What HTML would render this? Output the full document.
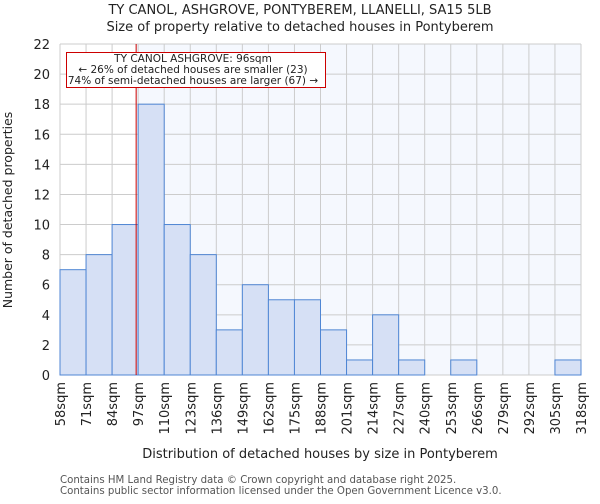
<!DOCTYPE html>
<html><head><meta charset="utf-8"><style>
body{margin:0;background:#fff;font-family:"DejaVu Sans","Liberation Sans",sans-serif}
svg text{font-family:"DejaVu Sans","Liberation Sans",sans-serif}
</style></head><body>
<svg id="c" width="600" height="500" xmlns="http://www.w3.org/2000/svg"></svg>
<script>
const categories=["58sqm","71sqm","84sqm","97sqm","110sqm","123sqm","136sqm","149sqm","162sqm","175sqm","188sqm","201sqm","214sqm","227sqm","240sqm","253sqm","266sqm","279sqm","292sqm","305sqm","318sqm"];
const counts=[7,8,10,18,10,8,3,6,5,5,3,1,4,1,0,1,0,0,0,1];
const yTicks=[0,2,4,6,8,10,12,14,16,18,20,22];
const binStart=58, binWidth=13, propertySize=96;
const L=60,R=581,T=44,B=375;
const svg=document.getElementById('c');
const NS='http://www.w3.org/2000/svg';
const n=counts.length;
const x=v=>L+(v-binStart)/(binWidth*n)*(R-L);
const y=v=>B-v/22*(B-T);
function el(tag,attrs,parent){const e=document.createElementNS(NS,tag);for(const k in attrs)e.setAttribute(k,attrs[k]);(parent||svg).appendChild(e);return e;}
function txt(s,attrs,name){const e=el('text',attrs);e.textContent=s;


return e;}
const mx=x(propertySize);
const bg=el('rect',{x:mx,y:T,width:R-mx,height:B-T,fill:'#f5f8fe'});


for(let i=0;i<=n;i++){const g=el('line',{x1:x(binStart+i*binWidth),x2:x(binStart+i*binWidth),y1:T,y2:B,stroke:'#cccccc','stroke-width':1});

}
yTicks.forEach(t=>{const g=el('line',{x1:L,x2:R,y1:y(t),y2:y(t),stroke:'#cccccc','stroke-width':1});


txt(String(t),{x:50,y:y(t)+5,'text-anchor':'end','font-size':13,fill:'#222'},'y-tick-label');});
counts.forEach((v,i)=>{if(v<=0)return;const x0=x(binStart+i*binWidth),x1=x(binStart+(i+1)*binWidth);
const b=el('rect',{x:x0,y:y(v),width:x1-x0,height:B-y(v),fill:'#d6e0f5',stroke:'#4f86d4','stroke-width':1});

});
categories.forEach((c,i)=>{const xx=x(binStart+i*binWidth);
txt(c,{x:0,y:0,transform:`translate(${xx+5},382) rotate(-90)`,'text-anchor':'end','font-size':13,fill:'#222'},'x-tick-label');});
const ml=el('line',{x1:mx,x2:mx,y1:T,y2:B,stroke:'#cc0000','stroke-width':1});


const box=el('rect',{x:66.5,y:52.5,width:259,height:35,fill:'#fff',stroke:'#cc0000','stroke-width':1});


txt('TY CANOL ASHGROVE: 96sqm',{x:193,y:62,'text-anchor':'middle','font-size':10.5,fill:'#222'},'annotation-title');
txt('← 26% of detached houses are smaller (23)',{x:193,y:73,'text-anchor':'middle','font-size':10.5,fill:'#222'},'annotation-smaller');
txt('74% of semi-detached houses are larger (67) →',{x:193,y:84,'text-anchor':'middle','font-size':10.5,fill:'#222'},'annotation-larger');
txt('TY CANOL, ASHGROVE, PONTYBEREM, LLANELLI, SA15 5LB',{x:300,y:14,'text-anchor':'middle','font-size':13,fill:'#222'},'chart-title');
txt('Size of property relative to detached houses in Pontyberem',{x:300,y:31,'text-anchor':'middle','font-size':13,fill:'#222'},'chart-subtitle');
txt('Distribution of detached houses by size in Pontyberem',{x:320,y:458,'text-anchor':'middle','font-size':13,fill:'#222'},'x-axis-title');
txt('Number of detached properties',{x:0,y:0,transform:'translate(12,210) rotate(-90)','text-anchor':'middle','font-size':12.5,fill:'#222'},'y-axis-title');
txt('Contains HM Land Registry data © Crown copyright and database right 2025.',{x:60,y:483,'font-size':10.2,fill:'#555'},'footer-line-1');
txt('Contains public sector information licensed under the Open Government Licence v3.0.',{x:60,y:494,'font-size':10.2,fill:'#555'},'footer-line-2');
</script>
</body></html>
